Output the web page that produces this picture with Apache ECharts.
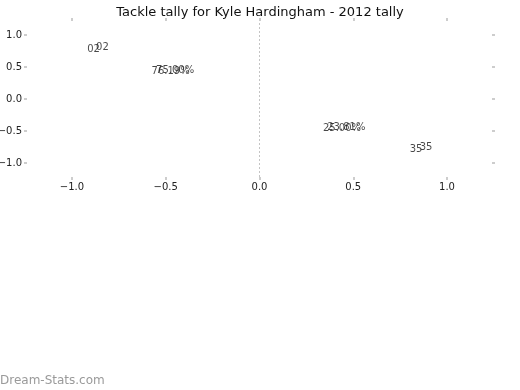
<!DOCTYPE html>
<html>
<head>
<meta charset="utf-8">
<script src="https://cdn.jsdelivr.net/npm/echarts@6/dist/echarts.min.js"></script>
<style>html,body{margin:0;padding:0;background:#fff}#c{width:520px;height:390px}</style>
</head>
<body>
<div id="c"></div>
<script>
// ---- data ----
const titleText = 'Tackle tally for Kyle Hardingham - 2012 tally';
const tickValues = [-1.0, -0.5, 0.0, 0.5, 1.0];
// two overlapping (degenerate) pies: wedge labels and percentage labels
const pie1Labels = ['02', '35'];
const pie2Labels = ['02', '35'];
const pie1Pct = ['75.00%', '25.00%'];
const pie2Pct = ['76.19%', '23.81%'];
// where each text sits, in axis units
const pie1LabelPos = [[-0.838, 0.805], [0.835, -0.790]];
const pie2LabelPos = [[-0.885, 0.770], [0.888, -0.752]];
const pie1PctPos = [[-0.450, 0.453], [0.440, -0.458]];
const pie2PctPos = [[-0.474, 0.438], [0.463, -0.445]];

const FONT = 'DejaVu Sans';
const tickColor = '#bdbdbd';
const fmt = v => (v < 0 ? '\u2212' : '') + Math.abs(v).toFixed(1);

function textPoints(pos, txt) {
  return pos.map((p, i) => ({ value: [p[0], p[1]], name: txt[i] }));
}
function textSeries(pos, txt) {
  return {
    type: 'scatter', symbolSize: 0, silent: true,
    data: textPoints(pos, txt),
    label: { show: true, position: 'inside', formatter: '{b}', color: '#1a1a1a', fontFamily: FONT, fontSize: 10 }
  };
}
const axisCommon = {
  type: 'value', min: -1.24, max: 1.24,
  axisLine: { show: false, onZero: false }, splitLine: { show: false },
  axisTick: { show: true, length: 3, customValues: tickValues, lineStyle: { color: tickColor, width: 1.5 } }
};
const chart = echarts.init(document.getElementById('c'), null, { renderer: 'canvas' });
chart.setOption({
  animation: false,
  backgroundColor: '#fff',
  title: [
    { text: titleText, left: 'center', top: 1, textStyle: { fontFamily: FONT, fontSize: 13, fontWeight: 'normal', color: '#111' } },
    { text: 'Dream-Stats.com', left: 0, bottom: 3, padding: 0, textStyle: { fontFamily: FONT, fontSize: 12, fontWeight: 'normal', color: '#9a9a9a' } }
  ],
  grid: { left: 27, right: 28, top: 21, bottom: 213, containLabel: false, outerBoundsMode: 'none' },
  xAxis: [
    Object.assign({}, axisCommon, { position: 'bottom',
      axisLabel: { show: true, customValues: tickValues, formatter: fmt, margin: 5, fontFamily: FONT, fontSize: 10, color: '#222' } }),
    Object.assign({}, axisCommon, { position: 'top', axisLabel: { show: false } })
  ],
  yAxis: [
    Object.assign({}, axisCommon, { min: -1.22, max: 1.22, position: 'left',
      axisLabel: { show: true, customValues: tickValues, formatter: fmt, margin: 5, fontFamily: FONT, fontSize: 10, color: '#222' } }),
    Object.assign({}, axisCommon, { min: -1.22, max: 1.22, position: 'right', axisLabel: { show: false } })
  ],
  series: [
    Object.assign(textSeries(pie1LabelPos, pie1Labels), {
      markLine: { silent: true, symbol: 'none', label: { show: false },
        lineStyle: { type: [2, 2], color: '#c4c4c4', width: 1 },
        data: [{ xAxis: 0 }] }
    }),
    textSeries(pie2LabelPos, pie2Labels),
    textSeries(pie1PctPos, pie1Pct),
    textSeries(pie2PctPos, pie2Pct)
  ]
});
</script>
</body>
</html>
